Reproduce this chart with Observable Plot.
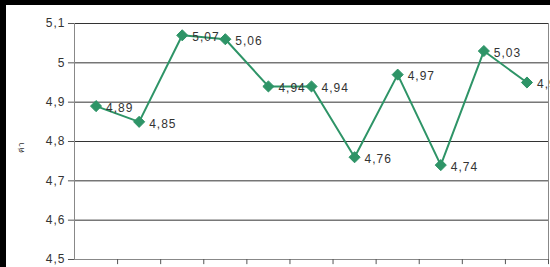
<!DOCTYPE html>
<html>
<head>
<meta charset="utf-8">
<script src="https://cdn.jsdelivr.net/npm/d3@7"></script>
<script src="https://cdn.jsdelivr.net/npm/@observablehq/plot@0.6"></script>
<style>
  html, body { margin: 0; padding: 0; background: #000; }
  #frame { width: 550px; height: 267px; background: #000; padding: 5px 0 0 6px; box-sizing: border-box; overflow: hidden; }
  #chart { background: #fff; width: 544px; height: 262px; }
  svg { overflow: hidden; }
</style>
</head>
<body>
<div id="frame"><div id="chart"></div></div>
<script>
const categories = ["1","2","3","4","5","6","7","8","9","10","11"];
const values = [4.89, 4.85, 5.07, 5.06, 4.94, 4.94, 4.76, 4.97, 4.74, 5.03, 4.95];
const yTicks = [4.5, 4.6, 4.7, 4.8, 4.9, 5.0, 5.1];
const yLabel = "ค่า";

const data = categories.map((c, i) => ({c, i: i + 0.5, v: values[i]}));
const fmt = v => d3.format(".2f")(v).replace(/\.?0+$/, "").replace(".", ",");
const fmtTick = v => String(+v.toFixed(2)).replace(".", ",");
const xBounds = d3.range(1, categories.length + 1);

const plot = Plot.plot({
  width: 544,
  height: 262,
  marginLeft: 68,
  marginTop: 18,
  marginBottom: 8,
  marginRight: 2,
  style: {fontFamily: "'Liberation Sans', Arial, sans-serif", fontSize: "12px", color: "#333", background: "#fff", overflow: "hidden", letterSpacing: "1px"},
  x: {domain: [0, categories.length], axis: null},
  y: {domain: [4.5, 5.1], axis: null},
  marks: [
    Plot.ruleY(yTicks.slice(1), {stroke: "#333", strokeWidth: 1}),
    Plot.ruleX([categories.length], {stroke: "#888", strokeWidth: 1}),
    Plot.ruleX([0], {stroke: "#888", strokeWidth: 1}),
    Plot.ruleY([4.5], {stroke: "#888", strokeWidth: 1}),
    Plot.ruleY(yTicks, {y: d => d, x1: -0.14, x2: 0, stroke: "#555", clip: false}),
    Plot.text(yTicks, {y: d => d, x: 0, dx: -9, text: fmtTick, textAnchor: "end", fill: "#333", fontSize: 12}),
    Plot.ruleX(xBounds, {x: d => d, y1: 4.5, y2: 4.487, stroke: "#555"}),
    Plot.line(data, {x: "i", y: "v", stroke: "#2e9467", strokeWidth: 2}),
    Plot.dot(data, {x: "i", y: "v", symbol: "diamond2", r: 5, fill: "#2e9467", stroke: "#2e9467", strokeWidth: 1}),
    Plot.text(data, {x: "i", y: "v", text: d => fmt(d.v), dx: 10, dy: 2, textAnchor: "start", fill: "#333", fontSize: 12})
  ]
});
document.getElementById("chart").appendChild(plot);

// y-axis label
const svg = d3.select(plot);
svg.append("text")
  .attr("transform", "translate(18,142) rotate(-90)")
  .attr("text-anchor", "middle")
  .attr("font-size", 8)
  .attr("fill", "#333")
  .text(yLabel);
</script>
</body>
</html>
